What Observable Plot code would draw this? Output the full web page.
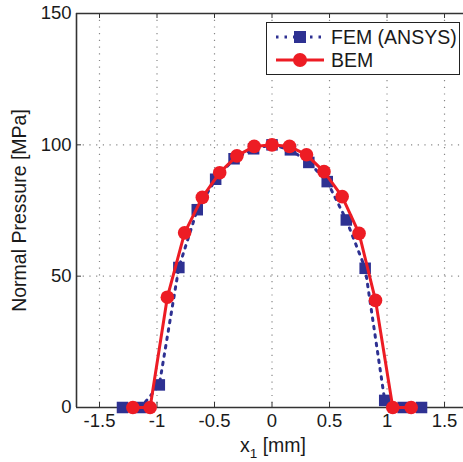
<!DOCTYPE html>
<html>
<head>
<meta charset="utf-8">
<script src="https://cdn.jsdelivr.net/npm/d3@7"></script>
<script src="https://cdn.jsdelivr.net/npm/@observablehq/plot@0.6"></script>
<style>
  html, body { margin: 0; padding: 0; background: #fff; }
  #wrap { position: relative; width: 463px; height: 462px; font-family: "Liberation Sans", Arial, Helvetica, sans-serif; }
  #legend { position: absolute; left: 266px; top: 22px; width: 194px; height: 53px; border: 1px solid #222; background: #fff; box-sizing: border-box; }
  #legend .row { position: absolute; left: 0; height: 24px; display: flex; align-items: center; font-size: 19.5px; color: #1a1a1a; }
  #legend svg { margin-right: 5px; }
  #xlabel { position: absolute; left: 0; width: 546px; top: 436px; text-align: center; font-size: 19.5px; color: #1a1a1a; line-height: 18px; }
  #xlabel sub { font-size: 13.5px; vertical-align: -6px; line-height: 0; }
</style>
</head>
<body>
<div id="wrap"></div>
<script>
// FEM (ANSYS) data
const femX = [-1.30, -1.14, -0.98, -0.81, -0.65, -0.49, -0.33, -0.16, 0, 0.16, 0.32, 0.48, 0.646, 0.81, 0.98, 1.14, 1.30];
const femY = [0, 0, 8.6, 53.3, 75.3, 86.9, 94.7, 98.5, 100, 98.1, 93.3, 86, 71.4, 53, 2.7, 0, 0];
// BEM data
const bemX = [-1.21, -1.06, -0.91, -0.76, -0.606, -0.455, -0.305, -0.155, 0, 0.152, 0.30, 0.452, 0.61, 0.757, 0.90, 1.05, 1.21];
const bemY = [0, 0, 42, 66.5, 80, 89.4, 95.8, 99.4, 100, 99.4, 96.2, 89.8, 80.3, 66.3, 40.8, 0, 0];
// ticks
const xTicks = [-1.5, -1, -0.5, 0, 0.5, 1, 1.5];
const xTickLabels = ["-1.5", "-1", "-0.5", "0", "0.5", "1", "1.5"];
const yTicks = [0, 50, 100, 150];
const yTickLabels = ["0", "50", "100", "150"];
const seriesNames = ["FEM (ANSYS)", "BEM"];
const yLabel = "Normal Pressure [MPa]";

const blue = "#2E3192";
const red = "#ED1C24";

const fem = femX.map((x, i) => ({x, y: femY[i]}));
const bem = bemX.map((x, i) => ({x, y: bemY[i]}));

const W = 463, H = 462, mL = 76, mT = 13, mB = 55;
const frameH = H - mT - mB;
const frameW = W - mL;

const plot = Plot.plot({
  width: W,
  height: H,
  marginLeft: mL,
  marginRight: 0,
  marginTop: mT,
  marginBottom: mB,
  style: {fontFamily: "Liberation Sans, Arial, Helvetica, sans-serif", fontSize: "18.5px", color: "#1a1a1a", background: "#fff"},
  x: {domain: [-1.7, 1.665], axis: null},
  y: {domain: [0, 150], axis: null},
  marks: [
    // grid
    Plot.ruleX(xTicks, {stroke: "#888", strokeWidth: 1.2, strokeDasharray: "1.2,5.5"}),
    Plot.ruleY(yTicks, {stroke: "#888", strokeWidth: 1.2, strokeDasharray: "1.2,5.5"}),
    // inward ticks bottom & top
    Plot.tickX(xTicks, {stroke: "#333", strokeWidth: 1, insetTop: frameH - 5}),
    Plot.tickX(xTicks, {stroke: "#333", strokeWidth: 1, insetBottom: frameH - 5}),
    Plot.tickY(yTicks, {stroke: "#333", strokeWidth: 1, insetRight: frameW - 5}),
    // axis frame lines
    Plot.ruleX([-1.7], {stroke: "#333", strokeWidth: 1.6}),
    Plot.ruleY([0, 150], {stroke: "#333", strokeWidth: 1.6}),
    // tick labels
    Plot.text(xTicks, {x: d => d, frameAnchor: "bottom", lineAnchor: "middle", dy: 14, text: (d, i) => xTickLabels[i], fill: "#1a1a1a", fontSize: 18.5}),
    Plot.text(yTicks, {y: d => d, frameAnchor: "left", dx: -5, textAnchor: "end", text: (d, i) => yTickLabels[i], fill: "#1a1a1a", fontSize: 18.5}),
    // FEM series
    Plot.line(fem, {x: "x", y: "y", stroke: blue, strokeWidth: 3, strokeDasharray: "2.5,6"}),
    Plot.dot(fem, {x: "x", y: "y", symbol: "square", r: 6.5, fill: blue, stroke: "none"}),
    // BEM series
    Plot.line(bem, {x: "x", y: "y", stroke: red, strokeWidth: 3}),
    Plot.dot(bem, {x: "x", y: "y", r: 6.8, fill: red, stroke: "none"}),
    // y-axis label
    Plot.text([yLabel], {frameAnchor: "left", dx: -57, rotate: -90, textAnchor: "middle", text: d => d, fill: "#1a1a1a", fontSize: 19.5})
  ]
});

const wrap = document.getElementById("wrap");
wrap.appendChild(plot);

// legend
const legend = document.createElement("div");
legend.id = "legend";
legend.innerHTML = `
  <div class="row" style="top:2px">
    <svg width="59" height="24"><line x1="9" x2="57" y1="12" y2="12" stroke="${blue}" stroke-width="3" stroke-dasharray="2.5,6"/><rect x="27" y="6" width="12" height="12" fill="${blue}"/></svg>${seriesNames[0]}
  </div>
  <div class="row" style="top:25px">
    <svg width="59" height="24"><line x1="9" x2="57" y1="12" y2="12" stroke="${red}" stroke-width="3"/><circle cx="33" cy="12" r="7" fill="${red}"/></svg>${seriesNames[1]}
  </div>`;
wrap.appendChild(legend);

// x label with subscript
const xl = document.createElement("div");
xl.id = "xlabel";
xl.innerHTML = "x<sub>1</sub> [mm]";
wrap.appendChild(xl);
</script>
</body>
</html>
